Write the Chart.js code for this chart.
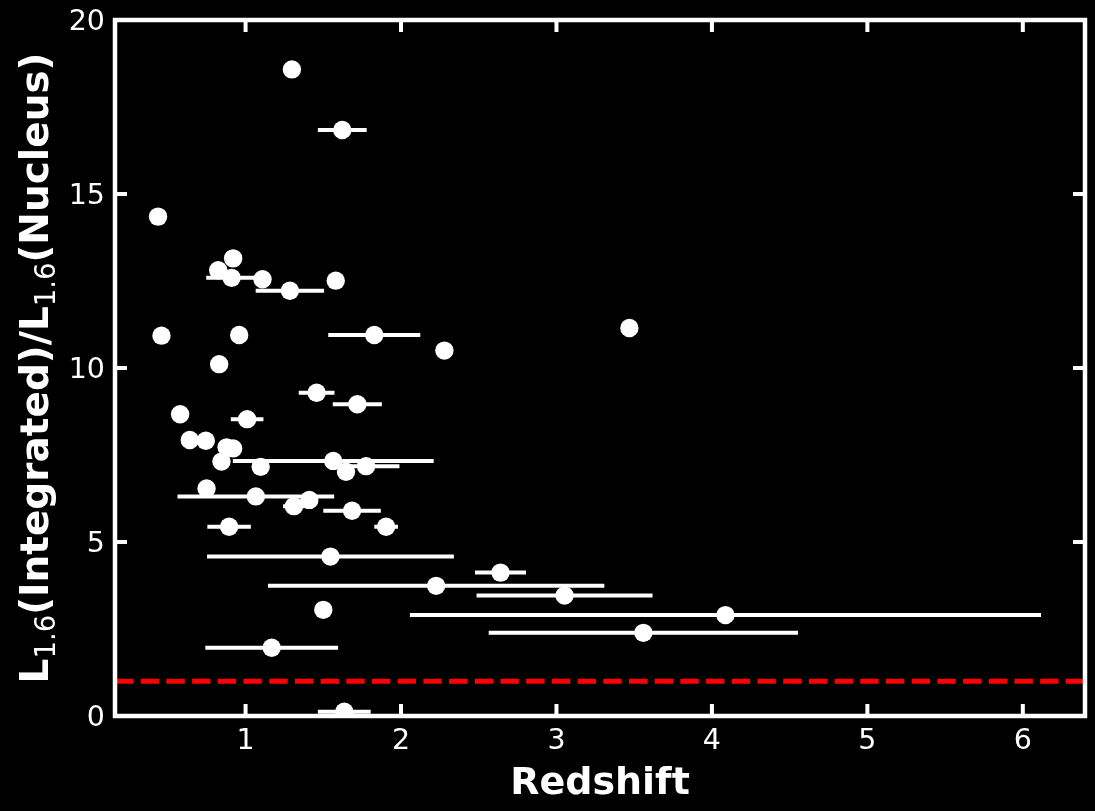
<!DOCTYPE html>
<html>
<head>
<meta charset="utf-8">
<script src="https://cdn.jsdelivr.net/npm/chart.js@4/dist/chart.umd.min.js"></script>
<style>
html, body { margin: 0; padding: 0; background: #000; }
canvas { display: block; }
</style>
</head>
<body>
<canvas id="chart" width="1095" height="811"></canvas>
<script>
// ---- data ----
const redshift = [1.298, 1.622, 0.437, 0.920, 0.824, 0.910, 1.109, 1.285, 1.580, 0.459,
                  0.959, 1.828, 2.279, 3.469, 0.830, 1.457, 1.719, 0.579, 1.010, 0.641,
                  0.744, 0.878, 0.920, 0.845, 1.097, 1.564, 1.646, 1.775, 0.749, 1.066,
                  1.311, 1.410, 1.685, 0.894, 1.904, 1.546, 2.640, 2.226, 3.052, 1.500,
                  4.087, 3.559, 1.168, 1.635];
const lumRatio = [18.58, 16.84, 14.35, 13.15, 12.81, 12.59, 12.55, 12.22, 12.51, 10.93,
                  10.95, 10.95, 10.50, 11.15, 10.11, 9.29, 8.96, 8.67, 8.53, 7.93,
                  7.91, 7.72, 7.69, 7.31, 7.16, 7.33, 7.02, 7.18, 6.54, 6.31,
                  6.03, 6.21, 5.90, 5.44, 5.44, 4.58, 4.12, 3.74, 3.46, 3.05,
                  2.90, 2.39, 1.96, 0.12];
const redshiftErr = [0, 0.157, 0, 0, 0, 0.163, 0, 0.22, 0, 0,
                     0, 0.296, 0, 0, 0, 0.115, 0.158, 0, 0.105, 0,
                     0, 0, 0, 0, 0, 0.646, 0, 0.215, 0, 0.504,
                     0.07, 0, 0.185, 0.14, 0.076, 0.794, 0.164, 1.082, 0.566, 0.05,
                     2.03, 0.995, 0.427, 0.17];
const xTickValues = [1, 2, 3, 4, 5, 6];
const yTickValues = [0, 5, 10, 15, 20];
const xRange = [0.16, 6.4];
const yRange = [0, 20];
const referenceRatio = 1;
const xTitle = 'Redshift';
const yTitleParts = [
  { text: 'L', sub: false },
  { text: '1.6', sub: true },
  { text: '(Integrated)/', sub: false },
  { text: 'L', sub: false },
  { text: '1.6', sub: true },
  { text: '(Nucleus)', sub: false }
];

// ---- build datasets from the arrays ----
const points = redshift.map((x, i) => ({ x: x, y: lumRatio[i] }));
const errSegments = [];
redshift.forEach((x, i) => {
  if (redshiftErr[i] > 0) {
    errSegments.push({ x: x - redshiftErr[i], y: lumRatio[i] });
    errSegments.push({ x: x + redshiftErr[i], y: lumRatio[i] });
    errSegments.push({ x: x, y: null });
  }
});
const refLine = [{ x: xRange[0], y: referenceRatio }, { x: xRange[1], y: referenceRatio }];

const FONT = '"DejaVu Sans", "Liberation Sans", sans-serif';

const framePlugin = {
  id: 'frameTicks',
  afterDatasetsDraw(chart) {
    const { ctx, chartArea: a, scales } = chart;
    const xs = scales.x, ys = scales.y;
    ctx.save();
    ctx.strokeStyle = '#ffffff';
    ctx.lineWidth = 4.5;
    ctx.strokeRect(a.left, a.top, a.right - a.left, a.bottom - a.top);
    ctx.lineWidth = 4;
    const L = 12;
    ctx.beginPath();
    xs.ticks.forEach(t => {
      const px = xs.getPixelForValue(t.value);
      ctx.moveTo(px, a.bottom); ctx.lineTo(px, a.bottom - L);
      ctx.moveTo(px, a.top); ctx.lineTo(px, a.top + L);
    });
    ys.ticks.forEach(t => {
      const py = ys.getPixelForValue(t.value);
      ctx.moveTo(a.left, py); ctx.lineTo(a.left + L, py);
      ctx.moveTo(a.right, py); ctx.lineTo(a.right - L, py);
    });
    ctx.stroke();
    ctx.restore();
  },
  afterDraw(chart) {
    const { ctx, chartArea: a } = chart;
    const mainFont = 'bold 39px ' + FONT;
    const subFont = '27.5px ' + FONT;
    ctx.save();
    let total = 0;
    yTitleParts.forEach(p => {
      ctx.font = p.sub ? subFont : mainFont;
      total += ctx.measureText(p.text).width;
    });
    const cy = (a.top + a.bottom) / 2;
    ctx.translate(48, cy);
    ctx.rotate(-Math.PI / 2);
    ctx.fillStyle = '#ffffff';
    ctx.textBaseline = 'alphabetic';
    ctx.textAlign = 'left';
    let x = -total / 2;
    yTitleParts.forEach(p => {
      ctx.font = p.sub ? subFont : mainFont;
      ctx.fillText(p.text, x, p.sub ? 7 : 0);
      x += ctx.measureText(p.text).width;
    });
    ctx.restore();
  }
};

new Chart(document.getElementById('chart'), {
  type: 'scatter',
  data: {
    datasets: [
      {
        label: 'sources',
        data: points,
        backgroundColor: '#ffffff',
        borderColor: '#ffffff',
        borderWidth: 0,
        pointRadius: 9.2,
        pointHoverRadius: 9.2,
        order: 0
      },
      {
        label: 'reference',
        data: refLine,
        showLine: true,
        borderColor: '#ff0000',
        borderWidth: 5,
        borderDash: [18.3, 7.4],
        pointRadius: 0,
        order: 1
      },
      {
        label: 'errors',
        data: errSegments,
        showLine: true,
        spanGaps: false,
        borderColor: '#ffffff',
        borderWidth: 4,
        borderCapStyle: 'butt',
        pointRadius: 0,
        order: 2
      }
    ]
  },
  options: {
    responsive: false,
    animation: false,
    events: [],
    layout: { padding: { top: 20, right: 10, left: 0, bottom: 0 } },
    plugins: { legend: { display: false }, tooltip: { enabled: false } },
    scales: {
      x: {
        type: 'linear',
        min: xRange[0],
        max: xRange[1],
        afterBuildTicks: s => { s.ticks = xTickValues.map(v => ({ value: v })); },
        afterFit: s => { s.height = 95; s.paddingLeft = 0; s.paddingRight = 0; },
        grid: { display: false, drawTicks: false },
        border: { display: false },
        ticks: { color: '#ffffff', font: { family: FONT, size: 28.5 }, padding: 8, maxRotation: 0 },
        title: { display: true, text: xTitle, color: '#ffffff', font: { family: FONT, size: 38, weight: 'bold' }, padding: { top: 0, bottom: 4 } }
      },
      y: {
        type: 'linear',
        min: yRange[0],
        max: yRange[1],
        afterBuildTicks: s => { s.ticks = yTickValues.map(v => ({ value: v })); },
        afterFit: s => { s.width = 115; s.paddingTop = 0; s.paddingBottom = 0; },
        grid: { display: false, drawTicks: false },
        border: { display: false },
        ticks: { color: '#ffffff', font: { family: FONT, size: 28.5 }, padding: 10, labelOffset: 3 }
      }
    }
  },
  plugins: [framePlugin]
});
</script>
</body>
</html>
